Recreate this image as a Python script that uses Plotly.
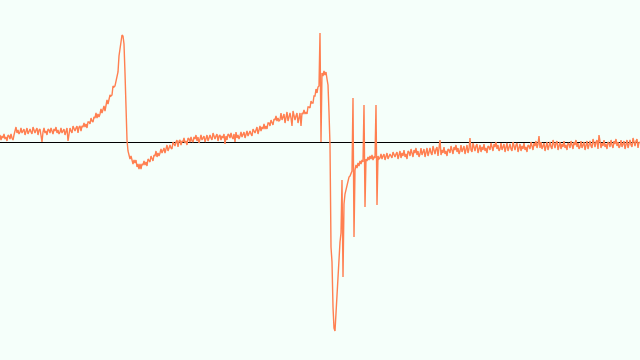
import plotly.graph_objects as go

# sample index (one sample per step)
samples = list(range(641))

# signal amplitude per sample (arbitrary units, 0 = baseline)
signal = [
    7, 2, 6, 4, 8, 3, 5, 1, 7, 6, 3, 8, 4, 2, 7, 11, 15, 9, 12, 8,
    10, 14, 9, 11, 13, 7, 12, 14, 8, 11, 13, 10, 8, 15, 11, 9, 12, 14, 7, 12,
    13, 8, 0, 10, 14, 9, 11, 7, 13, 12, 9, 14, 10, 8, 13, 11, 15, 9, 12, 8,
    10, 14, 9, 11, 13, 7, 12, 14, 1, 11, 14, 11, 9, 16, 12, 11, 14, 16, 9, 15,
    16, 11, 16, 15, 19, 15, 18, 14, 20, 20, 18, 24, 21, 20, 25, 24, 29, 24, 28, 25,
    28, 33, 29, 32, 36, 31, 38, 42, 38, 43, 47, 46, 47, 56, 55, 56, 62, 68, 70, 86,
    95, 102, 107, 106, 98, 69, 32, 2, -9, -14, -17, -14, -19, -22, -18, -21, -18, -25, -22, -27,
    -22, -27, -22, -23, -19, -23, -20, -24, -17, -18, -20, -14, -17, -19, -13, -14, -9, -15, -11, -14,
    -11, -7, -11, -8, -6, -11, -6, -3, -9, -5, -3, -6, -7, 0, -3, -4, 0, 2, -5, 1,
    2, -3, 1, 0, 4, -1, 1, -3, 4, 3, 0, 5, 1, 0, 5, 3, 7, 1, 5, -1,
    3, 7, 2, 4, 6, 0, 5, 7, 1, 4, 7, 4, 2, 9, 5, 3, 6, 8, 1, 6,
    7, 2, 6, 4, 8, -2, 6, 2, 8, 7, 4, 9, 5, 3, 8, 0, 10, 4, 7, 3,
    6, 10, 5, 8, 10, 4, 9, 11, 6, 9, 11, 8, 6, 13, 10, 9, 12, 15, 8, 14,
    16, 11, 15, 13, 18, 13, 16, 13, 19, 19, 16, 22, 19, 17, 23, 22, 26, 21, 24, 21,
    22, 29, 22, 25, 28, 19, 27, 30, 21, 26, 29, 24, 16, 31, 25, 22, 26, 29, 19, 27,
    29, 16, 29, 28, 32, 28, 30, 28, 35, 35, 34, 41, 39, 39, 46, 46, 53, 49, 55, 56,
    109, 0, 69, 66, 71, 67, 70, 63, 57, 30, -3, -105, -120, -165, -186, -189, -170, -145, -125, -110,
    -100, -91, -38, -135, -62, -52, -47, -43, -40, -35, -34, -30, -29, 44, -95, -28, -23, -26, -21, -24,
    -19, -22, -18, -20, 37, -65, -17, -19, -15, -18, -14, -17, -13, -18, -15, -16, 37, -63, -14, -17,
    -16, -12, -17, -14, -12, -18, -13, -11, -17, -14, -12, -14, -16, -10, -13, -15, -12, -10, -17, -12,
    -9, -16, -11, -14, -8, -15, -12, -17, -9, -10, -14, -7, -12, -15, -8, -11, -6, -13, -9, -15,
    -12, -6, -13, -9, -7, -15, -8, -6, -14, -10, -6, -11, -13, -4, -8, -12, -7, -5, -14, -8,
    2, -13, -8, -11, -5, -12, -9, -14, -7, -8, -11, -4, -9, -12, -5, -8, -3, -10, -6, -12,
    -9, -3, -10, -6, -4, -12, -5, -3, -11, -7, 4, -8, -10, -1, -5, -9, -4, -2, -11, -5,
    -3, -10, -5, -8, -2, -9, -6, -11, -4, -5, -8, -1, -6, -9, -2, -5, 0, -7, -3, -9,
    -7, -1, -8, -4, -2, -10, -3, -1, -9, -5, -2, -7, -9, 0, -4, -8, -3, -1, -10, -4,
    -2, -9, -4, -7, -1, -8, -5, -10, -3, -4, -7, 0, -5, -8, -1, -4, 1, -6, -2, 6,
    -6, 0, -7, -3, -1, -9, -2, 0, -8, -4, 0, -5, -7, 2, -2, -6, -1, 1, -8, -2,
    0, -7, -2, -5, 1, -6, -3, -8, -1, -2, -6, 1, -4, -7, 0, -3, 2, -5, -1, -7,
    -5, 1, -6, -2, 0, -8, -1, 1, -7, -3, 1, -4, -6, 3, -1, -5, 0, 2, -7, 7,
    1, -6, -1, -4, 2, -5, -2, -7, 0, -1, -5, 2, -3, -6, 1, -2, 3, -4, 0, -6,
    -4, 2, -5, -1, 1, -7, 0, 2, -6, -2, 2, -3, -5, 4, 0, -4, 1, 3, -6, 0,
    -1,
]

fig = go.Figure(
    go.Scatter(
        x=samples,
        y=signal,
        mode="lines",
        line=dict(color="#ff7f50", width=1.4),
        hoverinfo="skip",
    )
)

fig.update_layout(
    width=640,
    height=360,
    margin=dict(l=0, r=0, t=0, b=0),
    paper_bgcolor="#f5fffa",
    plot_bgcolor="#f5fffa",
    showlegend=False,
    xaxis=dict(
        range=[0, 640],
        visible=False,
        fixedrange=True,
    ),
    yaxis=dict(
        range=[-218, 142],
        showgrid=False,
        showticklabels=False,
        showline=False,
        ticks="",
        zeroline=True,
        zerolinecolor="black",
        zerolinewidth=1,
        fixedrange=True,
    ),
)

fig.write_html("out.html", config={"displayModeBar": False})
